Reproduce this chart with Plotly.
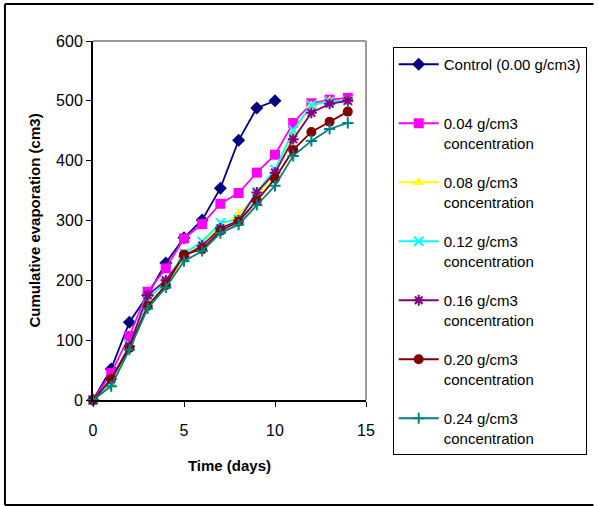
import plotly.graph_objects as go

days = list(range(15))
control = [0, 52, 130, 175, 229, 271, 301, 354, 434, 488, 500]
c004 = [0, 45, 107, 181, 220, 270, 294, 328, 346, 380, 410, 463, 496, 502, 505]
c008 = [0, 25, 88, 160, 190, 240, 262, 290, 311, 341, 377, 447, 492, 500, 500]
c012 = [0, 30, 92, 168, 197, 245, 265, 296, 302, 348, 385, 451, 493, 499, 500]
c016 = [0, 35, 90, 175, 200, 240, 258, 287, 300, 347, 380, 436, 480, 495, 500]
c020 = [0, 35, 87, 157, 192, 243, 252, 283, 298, 333, 370, 418, 448, 465, 482]
c024 = [0, 23, 84, 153, 188, 232, 249, 279, 293, 326, 358, 408, 433, 453, 463]

names = ["Control (0.00 g/cm3)<br> ",
         "0.04 g/cm3<br>concentration",
         "0.08 g/cm3<br>concentration",
         "0.12 g/cm3<br>concentration",
         "0.16 g/cm3<br>concentration",
         "0.20 g/cm3<br>concentration",
         "0.24 g/cm3<br>concentration"]
series = [control, c004, c008, c012, c016, c020, c024]
colors = ["#000080", "#FF00FF", "#FFFF00", "#00FFFF", "#800080", "#800000", "#008080"]
symbols = ["diamond", "square", "triangle-up", "x-thin-open", "asterisk-open", "circle", "cross-thin-open"]
sizes = [10, 10, 10, 9, 9, 10, 8]

fig = go.Figure()
for i, (nm, ys) in enumerate(zip(names, series)):
    mk = dict(symbol=symbols[i], size=sizes[i], color=colors[i])
    if symbols[i].endswith("open"):
        mk["line"] = dict(color=colors[i], width=2)
    fig.add_trace(go.Scatter(
        x=days[:len(ys)], y=ys, name=nm, mode="lines+markers",
        line=dict(color=colors[i], width=1.8), marker=mk,
        legendgroup=f"g{i}"))

L, R, T, B = 93, 369, 41, 400
W, H = 599, 506
pw, ph = R - L, B - T

def px(xp):
    return (xp - L) / pw

def py(yp):
    return (B - yp) / ph

frame = dict(color="black", width=2)
fig.update_layout(
    width=W, height=H,
    margin=dict(l=L, r=W - R, t=T, b=H - B),
    paper_bgcolor="white", plot_bgcolor="white",
    font=dict(family="Liberation Sans, Arial, sans-serif", size=15, color="black"),
    showlegend=True,
    legend=dict(x=px(396), y=py(47), xanchor="left", yanchor="top",
                bordercolor="black", borderwidth=1, bgcolor="white", maxheight=480,
                font=dict(size=15), valign="top", itemwidth=40,
                traceorder="grouped", tracegroupgap=17),
    xaxis=dict(range=[0, 15], tickvals=[0, 5, 10, 15], showgrid=False, zeroline=False,
               showline=True, linecolor="black", linewidth=2, ticks="outside",
               ticklen=5, tickcolor="black", tickfont=dict(size=16), ticklabelstandoff=10,
               title=dict(text="<b>Time (days)</b>", font=dict(size=15), standoff=22)),
    yaxis=dict(range=[0, 600], tickvals=[0, 100, 200, 300, 400, 500, 600], showgrid=False,
               zeroline=False, showline=True, linecolor="black", linewidth=2,
               ticks="outside", ticklen=5, tickcolor="black", tickfont=dict(size=16),
               title=dict(text="<b>Cumulative evaporation (cm3)</b>", font=dict(size=15),
                          standoff=12)),
    shapes=[
        dict(type="line", xref="paper", yref="paper", x0=0, x1=1, y0=1, y1=1,
             line=dict(color="#999999", width=2)),
        dict(type="line", xref="paper", yref="paper", x0=1, x1=1, y0=0, y1=1,
             line=dict(color="#999999", width=2)),
        dict(type="line", xref="paper", yref="paper", x0=px(4), x1=px(599),
             y0=py(4), y1=py(4), line=frame),
        dict(type="line", xref="paper", yref="paper", x0=px(4), x1=px(599),
             y0=py(505), y1=py(505), line=frame),
        dict(type="line", xref="paper", yref="paper", x0=px(4), x1=px(4),
             y0=py(505), y1=py(4), line=frame),
    ],
)
fig.update_traces(cliponaxis=False)

fig.write_html("out.html")
